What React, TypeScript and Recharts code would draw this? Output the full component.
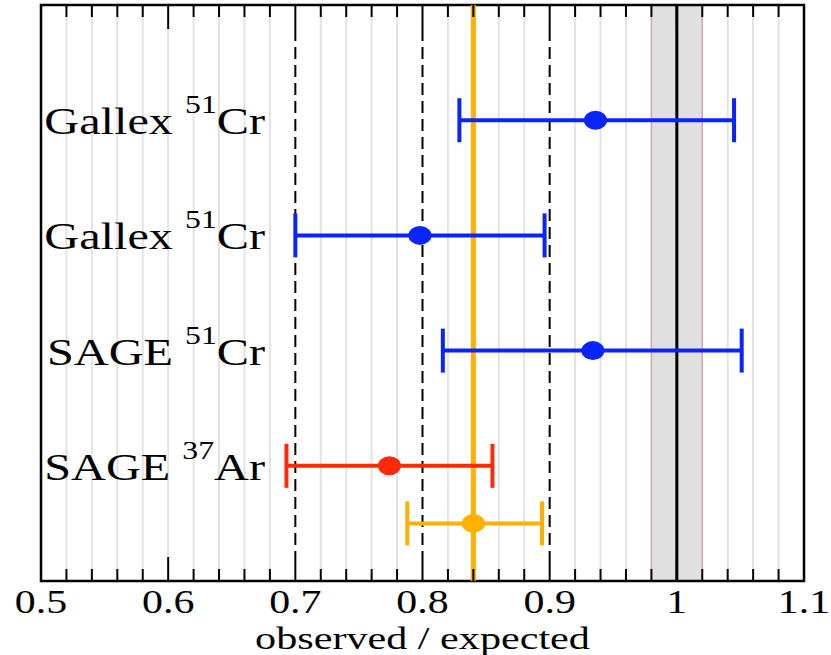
import {
  ScatterChart,
  Scatter,
  XAxis,
  YAxis,
  ErrorBar,
  ReferenceLine,
  ReferenceArea,
} from "recharts";

const experiments = ["Gallex", "Gallex", "SAGE", "SAGE"];
const isotopes = ["51", "51", "51", "37"];
const elements = ["Cr", "Cr", "Cr", "Ar"];
const rowPositions = [4, 3, 2, 1];
const ratios = [0.936, 0.798, 0.934, 0.774];
const lowerLimits = [0.829, 0.7, 0.816, 0.693];
const upperLimits = [1.045, 0.896, 1.051, 0.855];
const sourceColors = ["#0a24ff", "#0a24ff", "#0a24ff", "#ff2a0a"];

const averageRow = 0.5;
const averageRatio = 0.84;
const averageLow = 0.788;
const averageHigh = 0.894;

const expectedBand = [0.98, 1.02];
const expectedRatio = 1;

const majorTicks = [0.5, 0.6, 0.7, 0.8, 0.9, 1.0, 1.1];
const minorTicks = [
  0.52, 0.54, 0.56, 0.58, 0.62, 0.64, 0.66, 0.68, 0.72, 0.74, 0.76, 0.78,
  0.82, 0.84, 0.86, 0.88, 0.92, 0.94, 0.96, 0.98, 1.02, 1.04, 1.06, 1.08,
];
const gridLines = [
  0.52, 0.54, 0.56, 0.58, 0.62, 0.64, 0.66, 0.68, 0.72, 0.74, 0.76, 0.78,
  0.82, 0.84, 0.86, 0.88, 0.92, 0.94, 0.96, 1.04, 1.06, 1.08,
];
const majorGridLines = [0.6];
const dashedLines = [0.7, 0.8, 0.9];

const Y_MIN = 0;
const Y_MAX = 5;
const MINOR_LEN = 12;
const MAJOR_LEN = 24;

const FONT = "Liberation Serif, Times New Roman, serif";
const STRETCH = 1.27;

const points = ratios.map((r, i) => ({
  x: r,
  y: rowPositions[i],
  err: [r - lowerLimits[i], upperLimits[i] - r],
  color: sourceColors[i],
}));
const bluePoints = points.filter((p) => p.color === "#0a24ff");
const redPoints = points.filter((p) => p.color !== "#0a24ff");
const averagePoint = [
  {
    x: averageRatio,
    y: averageRow,
    err: [averageRatio - averageLow, averageHigh - averageRatio],
  },
];

function Dot(props: any) {
  return <ellipse cx={props.cx} cy={props.cy} rx={11.5} ry={9.5} fill={props.fill} />;
}

// inward tick marks at both ends of a vertical reference line
function tickShape(len: number) {
  return (p: any) => {
    const top = Math.min(p.y1, p.y2);
    const bot = Math.max(p.y1, p.y2);
    return (
      <g>
        <line x1={p.x1} x2={p.x1} y1={top} y2={top + len} stroke="#000" strokeWidth={2} />
        <line x1={p.x1} x2={p.x1} y1={bot} y2={bot - len} stroke="#000" strokeWidth={2} />
      </g>
    );
  };
}

// vertical line that stops where the tick marks start
function insetLine(inset: number, stroke: string, width: number, dash?: string) {
  return (p: any) => {
    const top = Math.min(p.y1, p.y2);
    const bot = Math.max(p.y1, p.y2);
    return (
      <line
        x1={p.x1}
        x2={p.x1}
        y1={top + inset}
        y2={bot - inset}
        stroke={stroke}
        strokeWidth={width}
        strokeDasharray={dash}
      />
    );
  };
}

function XTick({ x, y, payload }: any) {
  const v = payload.value;
  const txt = Math.abs(v - 1) < 1e-6 ? "1" : String(Math.round(v * 10) / 10);
  return (
    <g transform={`translate(${x},${y + 32}) scale(${STRETCH},1)`}>
      <text textAnchor="middle" style={{ fontFamily: FONT }} fontSize={33} fill="#000">
        {txt}
      </text>
    </g>
  );
}

function RowLabel({ y, payload }: any) {
  const i = rowPositions.indexOf(payload.value);
  if (i < 0) return <g />;
  return (
    <g transform={`translate(265,${y + 14}) scale(${STRETCH},1)`}>
      <text textAnchor="end" style={{ fontFamily: FONT }} fontSize={38} fill="#000">
        <tspan>{experiments[i]} </tspan>
        <tspan fontSize={25} dy={-21}>
          {isotopes[i]}
        </tspan>
        <tspan dy={21}>{elements[i]}</tspan>
      </text>
    </g>
  );
}

function AxisTitle(props: any) {
  const vb = props.viewBox || { x: 41, y: 581, width: 763 };
  return (
    <g transform={`translate(${vb.x + vb.width / 2},${vb.y + 68}) scale(1.36,1)`}>
      <text textAnchor="middle" style={{ fontFamily: FONT }} fontSize={31} fill="#000">
        observed / expected
      </text>
    </g>
  );
}

export default function App() {
  return (
    <div style={{ position: "fixed", left: 0, top: 0, background: "#fff" }}>
      <ScatterChart width={831} height={655} margin={{ top: 5, right: 27, bottom: 0, left: 0 }}>
        <XAxis
          xAxisId="main"
          type="number"
          dataKey="x"
          domain={[0.5, 1.1]}
          ticks={majorTicks}
          interval={0}
          allowDataOverflow
          height={74}
          tickSize={0}
          tickMargin={0}
          tickLine={false}
          axisLine={false}
          tick={<XTick />}
          label={{ content: <AxisTitle /> }}
        />
        <YAxis
          type="number"
          dataKey="y"
          domain={[Y_MIN, Y_MAX]}
          ticks={rowPositions}
          interval={0}
          width={41}
          tickLine={false}
          axisLine={false}
          tick={<RowLabel />}
        />

        <ReferenceArea
          xAxisId="main"
          x1={expectedBand[0]}
          x2={expectedBand[1]}
          y1={Y_MIN}
          y2={Y_MAX}
          fill="#e0e0e0"
          fillOpacity={1}
          stroke="none"
        />
        {gridLines.map((g) => (
          <ReferenceLine key={`g${g}`} xAxisId="main" x={g} shape={insetLine(MINOR_LEN, "#e3e3e3", 2)} />
        ))}
        {majorGridLines.map((g) => (
          <ReferenceLine key={`G${g}`} xAxisId="main" x={g} shape={insetLine(MAJOR_LEN, "#e3e3e3", 2)} />
        ))}
        {expectedBand.map((b) => (
          <ReferenceLine key={`b${b}`} xAxisId="main" x={b} shape={insetLine(MINOR_LEN, "#d8a4a4", 1.5)} />
        ))}
        {dashedLines.map((d) => (
          <ReferenceLine key={`d${d}`} xAxisId="main" x={d} shape={insetLine(MAJOR_LEN, "#000", 2, "12 6")} />
        ))}
        <ReferenceLine xAxisId="main" x={expectedRatio} stroke="#000" strokeWidth={3} />
        <ReferenceLine xAxisId="main" x={averageRatio} stroke="#ffb000" strokeWidth={5} />
        {minorTicks.map((t) => (
          <ReferenceLine key={`m${t}`} xAxisId="main" x={t} zIndex={1000} shape={tickShape(MINOR_LEN)} />
        ))}
        {majorTicks.map((t) => (
          <ReferenceLine key={`M${t}`} xAxisId="main" x={t} zIndex={1000} shape={tickShape(MAJOR_LEN)} />
        ))}
        <ReferenceArea
          xAxisId="main"
          x1={0.5}
          x2={1.1}
          y1={Y_MIN}
          y2={Y_MAX}
          fill="none"
          stroke="#000"
          strokeWidth={2.5}
        />

        <Scatter xAxisId="main" data={bluePoints} fill="#0a24ff" shape={<Dot />} isAnimationActive={false}>
          <ErrorBar dataKey="err" direction="x" width={22} strokeWidth={4} stroke="#0a24ff" isAnimationActive={false} />
        </Scatter>
        <Scatter xAxisId="main" data={redPoints} fill="#ff2a0a" shape={<Dot />} isAnimationActive={false}>
          <ErrorBar dataKey="err" direction="x" width={22} strokeWidth={4} stroke="#ff2a0a" isAnimationActive={false} />
        </Scatter>
        <Scatter xAxisId="main" data={averagePoint} fill="#ffb000" shape={<Dot />} isAnimationActive={false}>
          <ErrorBar dataKey="err" direction="x" width={22} strokeWidth={4} stroke="#ffb000" isAnimationActive={false} />
        </Scatter>
      </ScatterChart>
    </div>
  );
}
